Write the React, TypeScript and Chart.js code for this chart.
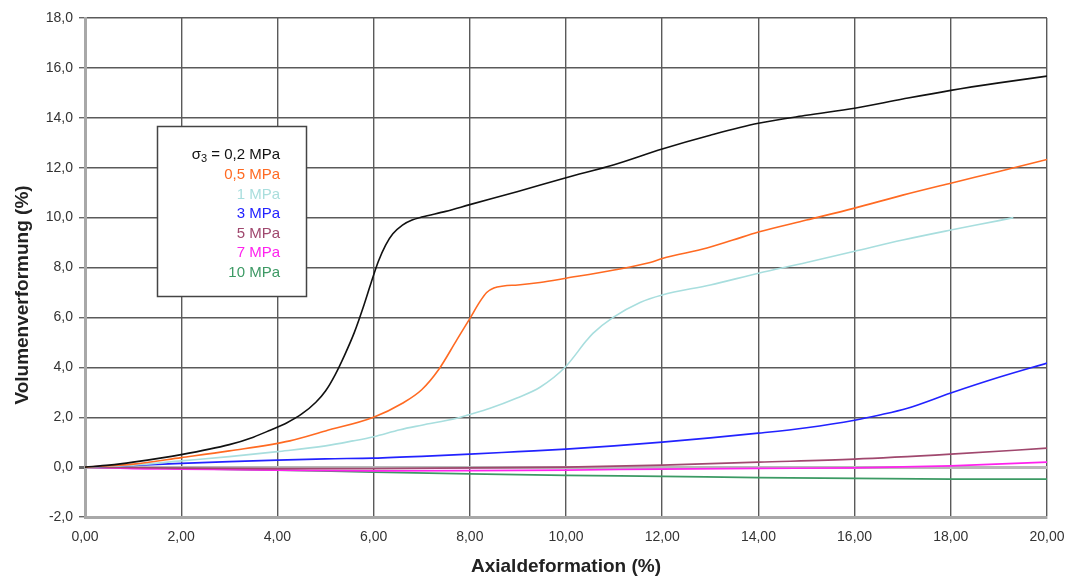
import React, { useEffect, useRef } from "react";
import { Chart, registerables } from "chart.js";

Chart.register(...registerables);

// Axial strain (%) vs. volumetric strain (%) for each confining pressure
const s02: number[][] = [
  [0, 0], [0.5, 0.08], [1, 0.2], [2, 0.5], [3, 0.9], [3.5, 1.2], [3.85, 1.48], [4.2, 1.78],
  [4.5, 2.12], [4.8, 2.6], [5.0, 3.05], [5.2, 3.7], [5.4, 4.5], [5.6, 5.4], [5.8, 6.5],
  [5.95, 7.4], [6.1, 8.25], [6.25, 8.9], [6.4, 9.35], [6.6, 9.7], [6.8, 9.9], [7.0, 10.02],
  [7.5, 10.25], [8, 10.52], [9, 11.05], [10, 11.6], [11, 12.12], [12, 12.75], [13, 13.3],
  [14, 13.78], [15, 14.1], [16, 14.38], [17, 14.75], [18, 15.1], [19, 15.4], [20, 15.67],
];
const s05: number[][] = [
  [0, 0], [1, 0.12], [2, 0.38], [3, 0.65], [4.26, 1.05], [5, 1.45], [6, 2.0], [6.6, 2.56],
  [7, 3.1], [7.35, 3.9], [7.73, 5.1], [8, 5.95], [8.2, 6.6], [8.35, 7.0], [8.5, 7.18],
  [8.7, 7.26], [9.0, 7.3], [9.46, 7.4], [10, 7.57], [11, 7.9], [11.75, 8.2], [12, 8.36],
  [12.93, 8.78], [13.47, 9.1], [14, 9.42], [15, 9.9], [16, 10.38], [17, 10.9], [18, 11.38],
  [19, 11.85], [20, 12.33],
];
const s1: number[][] = [
  [0, 0], [1, 0.08], [2, 0.25], [3, 0.42], [4, 0.62], [5, 0.85], [5.57, 1.05], [6, 1.22],
  [6.55, 1.5], [7, 1.68], [7.73, 1.96], [7.94, 2.08], [8.42, 2.36], [8.98, 2.77], [9.46, 3.2],
  [9.98, 4.0], [10.43, 5.08], [10.56, 5.36], [10.98, 6.0], [11.54, 6.6], [12, 6.9], [13, 7.3],
  [14, 7.77], [15, 8.2], [16, 8.65], [17, 9.1], [18, 9.5], [19, 9.88], [19.3, 10.0],
];
const s3: number[][] = [
  [0, 0], [1, 0.07], [2, 0.15], [3, 0.22], [4, 0.28], [5, 0.33], [6, 0.36], [7, 0.43],
  [8, 0.52], [9, 0.62], [10, 0.72], [11, 0.85], [12, 1.0], [13, 1.17], [14, 1.36], [15, 1.58],
  [16, 1.88], [16.5, 2.08], [17.1, 2.36], [18, 2.97], [19, 3.6], [20, 4.17],
];
const s5: number[][] = [
  [0, 0], [2, -0.04], [4, -0.06], [6, -0.06], [8, -0.03], [10, 0.0], [12, 0.08], [14, 0.2],
  [16, 0.32], [18, 0.52], [20, 0.76],
];
const s7: number[][] = [
  [0, 0], [1, -0.06], [2, -0.08], [4, -0.12], [6, -0.15], [8, -0.14], [10, -0.12],
  [12, -0.08], [14, -0.05], [16, -0.03], [18, 0.05], [20, 0.2],
];
const s10: number[][] = [
  [0, 0], [1, -0.03], [2, -0.06], [4, -0.12], [6, -0.2], [8, -0.27], [10, -0.33],
  [12, -0.37], [14, -0.42], [16, -0.45], [18, -0.48], [20, -0.48],
];

const seriesLabels = ["0,2 MPa", "0,5 MPa", "1 MPa", "3 MPa", "5 MPa", "7 MPa", "10 MPa"];
const seriesData = [s02, s05, s1, s3, s5, s7, s10];
const seriesColors = ["#111111", "#ff6a22", "#a8dede", "#2222ff", "#a0486e", "#ff22ee", "#3c9a64"];

const xTitle = "Axialdeformation (%)";
const yTitle = "Volumenverformung (%)";

const FONT = "'Liberation Sans', Arial, sans-serif";

const overlayPlugin = {
  id: "overlay",
  afterDraw(chart: any) {
    const ctx = chart.ctx as CanvasRenderingContext2D;
    ctx.save();
    // axis titles
    ctx.fillStyle = "#222";
    ctx.font = `bold 19px ${FONT}`;
    ctx.textAlign = "center";
    ctx.textBaseline = "middle";
    ctx.fillText(xTitle, 566, 567);
    ctx.save();
    ctx.translate(23, 295);
    ctx.rotate(-Math.PI / 2);
    ctx.fillText(yTitle, 0, 0);
    ctx.restore();

    // legend box
    ctx.fillStyle = "#ffffff";
    ctx.fillRect(157, 126, 150, 171);
    ctx.strokeStyle = "#444";
    ctx.lineWidth = 1.5;
    ctx.strokeRect(157.5, 126.5, 149, 170);

    const right = 280;
    const rows = [155, 175, 195, 214, 234, 253, 273];
    ctx.textAlign = "left";
    ctx.textBaseline = "middle";
    seriesLabels.forEach((lab, i) => {
      ctx.fillStyle = seriesColors[i];
      ctx.font = `15px ${FONT}`;
      if (i === 0) {
        const main = " = " + lab;
        const wSig = ctx.measureText("σ").width;
        const wMain = ctx.measureText(main).width;
        ctx.font = `11px ${FONT}`;
        const wSub = ctx.measureText("3").width;
        let x = right - (wSig + wSub + wMain);
        ctx.font = `15px ${FONT}`;
        ctx.fillText("σ", x, rows[i]);
        x += wSig;
        ctx.font = `11px ${FONT}`;
        ctx.fillText("3", x, rows[i] + 4);
        x += wSub;
        ctx.font = `15px ${FONT}`;
        ctx.fillText(main, x, rows[i]);
      } else {
        const w = ctx.measureText(lab).width;
        ctx.fillText(lab, right - w, rows[i]);
      }
    });
    ctx.restore();
  },
};

export default function App() {
  const ref = useRef<HTMLCanvasElement | null>(null);

  useEffect(() => {
    if (!ref.current) return;
    Chart.defaults.font.family = FONT;
    const chart = new Chart(ref.current, {
      type: "line",
      data: {
        datasets: seriesData.map((d, i) => ({
          label: seriesLabels[i],
          data: d.map(([x, y]) => ({ x, y })),
          borderColor: seriesColors[i],
          backgroundColor: seriesColors[i],
          borderWidth: 1.6,
          pointRadius: 0,
          cubicInterpolationMode: "monotone" as const,
          fill: false,
        })),
      },
      options: {
        responsive: false,
        animation: false,
        layout: { padding: { left: 0, right: 24, top: 18, bottom: 0 } },
        plugins: {
          legend: { display: false },
          tooltip: { enabled: false },
        },
        scales: {
          x: {
            type: "linear",
            min: 0,
            max: 20,
            afterFit: (s: any) => {
              s.height = 62;
              s.paddingRight = 0;
              s.paddingLeft = 0;
            },
            ticks: {
              stepSize: 2,
              color: "#333",
              font: { size: 14 },
              padding: 12,
              maxRotation: 0,
              callback: (v: any) => Number(v).toFixed(2).replace(".", ","),
            },
            grid: {
              color: "#5a5a5a",
              lineWidth: 1.4,
              drawTicks: false,
            },
            border: { display: true, color: "#a8a8a8", width: 3 },
          },
          y: {
            type: "linear",
            min: -2,
            max: 18,
            afterFit: (s: any) => {
              s.width = 85;
              s.paddingTop = 0;
              s.paddingBottom = 0;
            },
            ticks: {
              stepSize: 2,
              color: "#333",
              font: { size: 14 },
              padding: 6,
              callback: (v: any) => Number(v).toFixed(1).replace(".", ","),
            },
            grid: {
              color: (c: any) => (c.tick && c.tick.value === 0 ? "#b8b8b8" : "#5a5a5a"),
              lineWidth: (c: any) => (c.tick && c.tick.value === 0 ? 3 : 1.4),
              tickLength: 6,
              tickColor: "#666",
              drawTicks: true,
            },
            border: { display: true, color: "#a8a8a8", width: 3 },
          },
        },
      },
      plugins: [overlayPlugin],
    });
    return () => chart.destroy();
  }, []);

  return (
    <div
      style={{
        position: "fixed",
        left: 0,
        top: 0,
        width: 1071,
        height: 579,
        background: "#ffffff",
      }}
    >
      <canvas ref={ref} width={1071} height={579} style={{ display: "block" }} />
    </div>
  );
}
